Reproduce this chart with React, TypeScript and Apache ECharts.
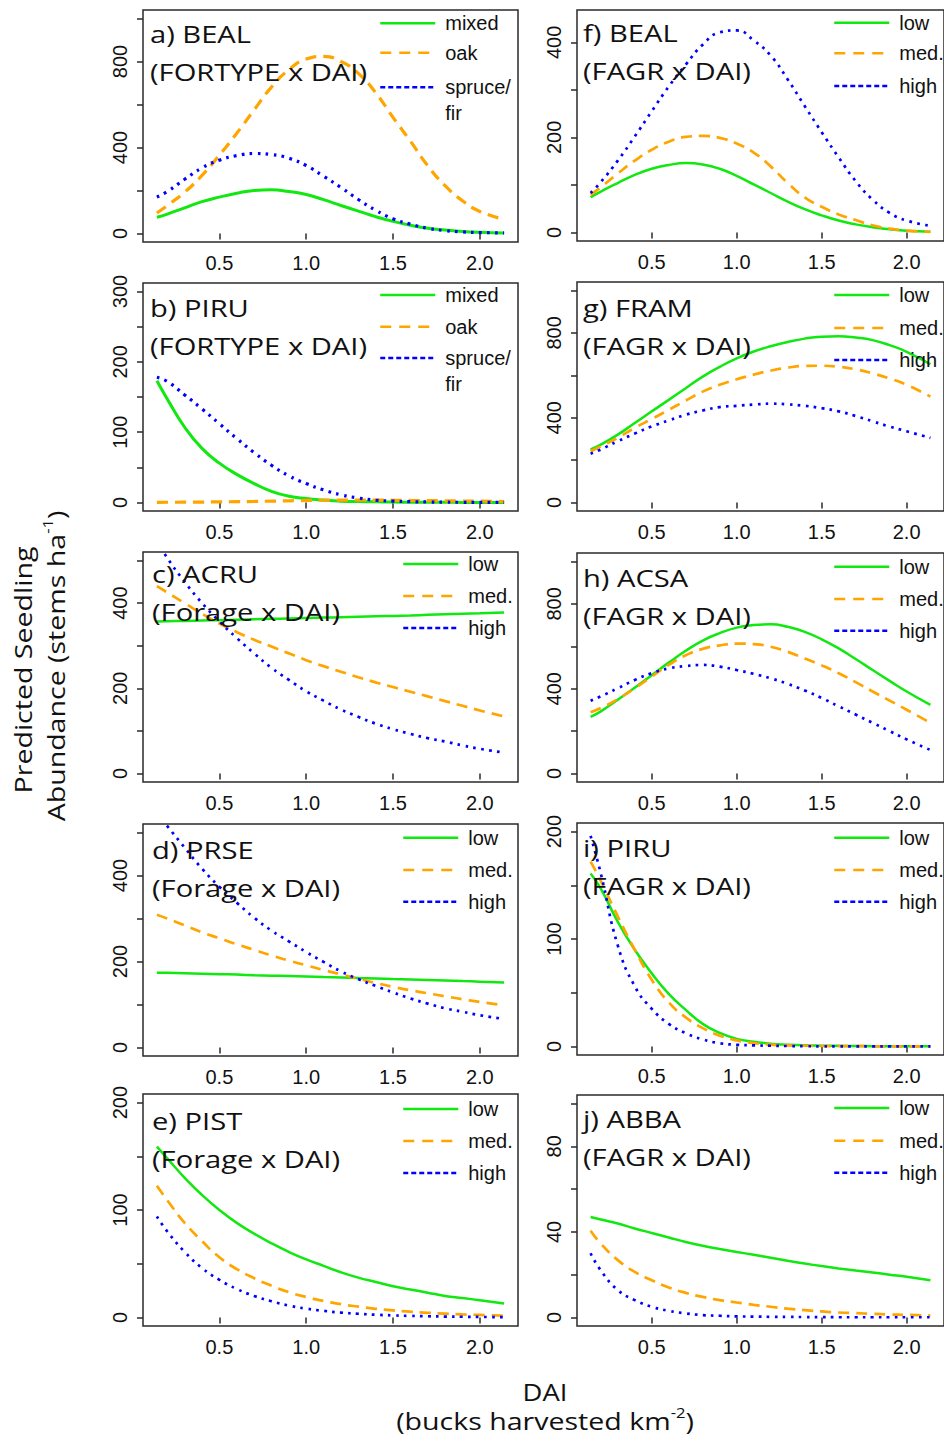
import React, { useEffect, useRef } from "react";
import * as echarts from "echarts";

// ---------- data ----------
const DAI = [0.14, 0.2, 0.3, 0.4, 0.5, 0.6, 0.7, 0.8, 0.9, 1.0, 1.1, 1.2, 1.3, 1.4, 1.5, 1.6, 1.7, 1.8, 1.9, 2.0, 2.14];
const X_TICKS = [0.5, 1.0, 1.5, 2.0];

const FORTYPE_NAMES = ["mixed", "oak", "spruce/fir"];
const LEVEL_NAMES = ["low", "med.", "high"];

// a) BEAL (FORTYPE x DAI)
const A_MIXED = [75, 90, 119, 148, 169, 187, 200, 203, 195, 181, 157, 130, 104, 78, 56, 38, 24, 16, 9, 5, 2];
const A_OAK = [95, 130, 192, 270, 364, 466, 575, 681, 762, 812, 824, 800, 745, 655, 540, 430, 315, 222, 152, 102, 66];
const A_SPRUCE = [169, 195, 252, 305, 341, 362, 372, 367, 350, 316, 266, 214, 158, 108, 68, 43, 24, 13, 7, 4, 2];
// b) PIRU (FORTYPE x DAI)
const B_MIXED = [173, 147, 107, 77, 56, 40, 27, 16, 9, 5.6, 3.5, 2, 1.4, 1, 0.7, 0.5, 0.4, 0.3, 0.25, 0.2, 0.1];
const B_OAK = [0.3, 0.4, 0.5, 0.7, 1, 1.3, 1.6, 2, 2.5, 3, 3.3, 3.5, 3.6, 3.5, 3.3, 3, 2.8, 2.5, 2.2, 2, 1.5];
const B_SPRUCE = [178, 172, 153, 133, 112, 91, 71, 53, 38, 27, 18, 11, 6.5, 3.5, 2, 1.2, 0.8, 0.5, 0.4, 0.3, 0.2];
// c) ACRU (Forage x DAI)
const C_LOW = [357, 357.5, 358, 359, 360, 361, 362, 363, 364, 365, 366, 367, 368, 369, 370, 371, 372.5, 374, 375, 376, 378];
const C_MED = [440, 425, 400, 375, 352, 332, 314, 298, 282, 266, 252, 239, 226, 214, 203, 192, 181, 170, 159, 148, 134];
const C_HIGH = [548, 506, 450, 400, 357, 318, 282, 248, 220, 193, 171, 150, 133, 117, 104, 93, 83, 75, 66, 58, 49];
// d) PRSE (Forage x DAI)
const D_LOW = [174, 173.5, 172.5, 171.5, 170.5, 169.5, 168, 167, 166, 165, 164, 163, 161.5, 160.5, 159, 158, 157, 156, 154.5, 153, 151];
const D_MED = [309, 300, 284, 268, 254, 240, 227, 214, 202, 191, 180, 170, 160, 150, 141, 133, 126, 119, 112, 106, 98];
const D_HIGH = [545, 515, 465, 416, 374, 337, 302, 272, 247, 222, 199, 177, 159, 143, 128, 114, 102, 91, 83, 75, 66];
// e) PIST (Forage x DAI)
const E_LOW = [159, 148, 130, 114, 100, 88, 78, 69, 61, 54, 48, 42, 37, 33, 29, 26, 23, 20, 18, 16, 13];
const E_MED = [122.5, 109, 88, 71, 56, 45, 36.5, 29.5, 23.5, 19, 15.3, 12.3, 10, 8, 6.5, 5.3, 4.3, 3.5, 2.8, 2.3, 1.7];
const E_HIGH = [94, 80, 61, 46, 35, 26.5, 20, 15, 11, 8.2, 6.1, 4.5, 3.4, 2.5, 1.9, 1.4, 1.1, 0.8, 0.6, 0.4, 0.3];
// f) BEAL (FAGR x DAI)
const F_LOW = [74, 86, 104, 121, 134, 142, 146, 143, 134, 119, 101, 83, 65, 49, 36, 25, 17, 11, 6.5, 3.8, 1.5];
const F_MED = [79, 95, 124, 151, 174, 191, 201, 203, 199, 187, 168, 139, 104, 74, 54, 38, 26, 15, 8, 4, 1];
const F_HIGH = [83, 106, 151, 202, 255, 307, 353, 395, 421, 425, 404, 372, 322, 266, 211, 158, 108, 69, 41, 25, 14];
// g) FRAM (FAGR x DAI)
const G_LOW = [250, 273, 320, 375, 430, 484, 539, 594, 640, 680, 712, 737, 757, 773, 782, 784, 778, 766, 742, 711, 652];
const G_MED = [242, 265, 305, 352, 394, 437, 481, 523, 555, 581, 603, 622, 636, 644, 645, 640, 628, 609, 585, 555, 500];
const G_HIGH = [230, 250, 289, 325, 359, 387, 414, 434, 450, 456, 462, 466, 463, 456, 445, 430, 408, 383, 358, 336, 305];
// h) ACSA (FAGR x DAI)
const H_LOW = [267, 293, 348, 405, 464, 523, 579, 627, 662, 688, 700, 704, 692, 668, 633, 590, 540, 488, 437, 387, 324];
const H_MED = [289, 309, 351, 402, 457, 512, 558, 588, 604, 613, 610, 598, 574, 543, 510, 473, 431, 387, 344, 301, 239];
const H_HIGH = [343, 364, 402, 441, 473, 496, 507, 512, 504, 488, 470, 449, 423, 392, 356, 317, 278, 239, 200, 161, 111];
// i) PIRU (FAGR x DAI)
const I_LOW = [161, 147, 116, 90, 68, 49, 34, 21, 12.5, 7, 4.3, 2.5, 1.6, 1, 0.7, 0.5, 0.35, 0.25, 0.15, 0.1, 0.1];
const I_MED = [172, 154, 121, 90, 62, 41, 27, 17, 10, 5.6, 3.1, 1.6, 1, 0.6, 0.4, 0.25, 0.2, 0.15, 0.1, 0.1, 0.1];
const I_HIGH = [196, 161, 94, 56, 35, 21, 12.3, 6.5, 3, 1.5, 1, 0.6, 0.35, 0.2, 0.1, 0.1, 0.1, 0.1, 0.1, 0.1, 0.1];
// j) ABBA (FAGR x DAI)
const J_LOW = [47, 45.8, 43.9, 41.6, 39.5, 37.4, 35.3, 33.5, 32, 30.6, 29.3, 27.9, 26.5, 25.2, 24, 22.9, 21.9, 21, 20, 19, 17.4];
const J_MED = [40.5, 34.5, 26.8, 21.3, 17.4, 14, 11.5, 9.6, 8.1, 7, 5.9, 5, 4.1, 3.4, 2.8, 2.3, 2, 1.7, 1.4, 1.2, 0.9];
const J_HIGH = [30, 22, 12.8, 8.1, 5, 3.1, 1.9, 1.1, 0.8, 0.5, 0.4, 0.3, 0.25, 0.2, 0.15, 0.1, 0.1, 0.1, 0.1, 0.1, 0.1];

// y-axis ticks and labels
const Y_TICKS_1000 = [0, 200, 400, 600, 800, 1000];
const Y_LABELS_1000 = [0, 400, 800];
const Y_TICKS_300 = [0, 50, 100, 150, 200, 250, 300];
const Y_LABELS_300 = [0, 100, 200, 300];
const Y_TICKS_500 = [0, 100, 200, 300, 400, 500];
const Y_LABELS_500 = [0, 200, 400];
const Y_TICKS_200 = [0, 50, 100, 150, 200];
const Y_LABELS_200 = [0, 100, 200];
const Y_TICKS_450 = [0, 100, 200, 300, 400];
const Y_LABELS_450 = [0, 200, 400];
const Y_TICKS_100 = [0, 20, 40, 60, 80, 100];
const Y_LABELS_100 = [0, 40, 80];

// ---------- layout / style ----------
const FONT_AXIS = "'Liberation Sans', Arial, sans-serif";
const FONT_TITLE = "'Open Sans', 'Noto Sans', sans-serif";
const X_MIN = 0.06;
const X_MAX = 2.22;
const STRETCH = 1.19;

type Panel = {
  label: string;
  model: string;
  names: string[];
  values: number[][];
  yMax: number;
  yTicks: number[];
  yLabels: number[];
  box: [number, number, number, number];
  titleX: number;
  titleBase: number;
  legendX: number;
  legendY: number[];
  lw: number;
};

const PANELS: Panel[] = [
  { label: "a) BEAL", model: "(FORTYPE x DAI)", names: FORTYPE_NAMES, values: [A_MIXED, A_OAK, A_SPRUCE], yMax: 1000, yTicks: Y_TICKS_1000, yLabels: Y_LABELS_1000, box: [143, 10, 375, 232], titleX: 150, titleBase: 42.7, legendX: 379, legendY: [23.3, 52.7, 87.3], lw: 3 },
  { label: "b) PIRU", model: "(FORTYPE x DAI)", names: FORTYPE_NAMES, values: [B_MIXED, B_OAK, B_SPRUCE], yMax: 300, yTicks: Y_TICKS_300, yLabels: Y_LABELS_300, box: [143, 283, 375, 228], titleX: 150, titleBase: 316.7, legendX: 379, legendY: [295, 326.7, 358], lw: 3 },
  { label: "c) ACRU", model: "(Forage x DAI)", names: LEVEL_NAMES, values: [C_LOW, C_MED, C_HIGH], yMax: 500, yTicks: Y_TICKS_500, yLabels: Y_LABELS_500, box: [143, 552, 375, 230], titleX: 152, titleBase: 583.3, legendX: 402, legendY: [564, 596, 628], lw: 2.5 },
  { label: "d) PRSE", model: "(Forage x DAI)", names: LEVEL_NAMES, values: [D_LOW, D_MED, D_HIGH], yMax: 500, yTicks: Y_TICKS_500, yLabels: Y_LABELS_500, box: [143, 824, 375, 232], titleX: 152, titleBase: 859.3, legendX: 402, legendY: [837.7, 870, 901.7], lw: 2.5 },
  { label: "e) PIST", model: "(Forage x DAI)", names: LEVEL_NAMES, values: [E_LOW, E_MED, E_HIGH], yMax: 200, yTicks: Y_TICKS_200, yLabels: Y_LABELS_200, box: [143, 1094, 375, 232], titleX: 152, titleBase: 1130, legendX: 402, legendY: [1109, 1141, 1173], lw: 2.5 },
  { label: "f) BEAL", model: "(FAGR x DAI)", names: LEVEL_NAMES, values: [F_LOW, F_MED, F_HIGH], yMax: 450, yTicks: Y_TICKS_450, yLabels: Y_LABELS_450, box: [577, 10, 375, 231], titleX: 583, titleBase: 41.7, legendX: 833, legendY: [22.7, 53.3, 86], lw: 2.5 },
  { label: "g) FRAM", model: "(FAGR x DAI)", names: LEVEL_NAMES, values: [G_LOW, G_MED, G_HIGH], yMax: 1000, yTicks: Y_TICKS_1000, yLabels: Y_LABELS_1000, box: [577, 282, 375, 229], titleX: 583, titleBase: 316.7, legendX: 833, legendY: [295, 328, 360], lw: 2.5 },
  { label: "h) ACSA", model: "(FAGR x DAI)", names: LEVEL_NAMES, values: [H_LOW, H_MED, H_HIGH], yMax: 1000, yTicks: Y_TICKS_1000, yLabels: Y_LABELS_1000, box: [577, 553, 375, 229], titleX: 583, titleBase: 586.7, legendX: 833, legendY: [566.7, 599, 630.7], lw: 2.5 },
  { label: "i) PIRU", model: "(FAGR x DAI)", names: LEVEL_NAMES, values: [I_LOW, I_MED, I_HIGH], yMax: 200, yTicks: Y_TICKS_200, yLabels: Y_LABELS_200, box: [577, 823, 375, 232], titleX: 583, titleBase: 857.3, legendX: 833, legendY: [837.7, 870, 901.7], lw: 2.5 },
  { label: "j) ABBA", model: "(FAGR x DAI)", names: LEVEL_NAMES, values: [J_LOW, J_MED, J_HIGH], yMax: 100, yTicks: Y_TICKS_100, yLabels: Y_LABELS_100, box: [577, 1095, 375, 231], titleX: 583, titleBase: 1128, legendX: 833, legendY: [1108, 1140.7, 1172.7], lw: 2.5 },
];

const LINE_STYLES = [
  { color: "#10e810", type: "solid" as any, extra: 0 },
  { color: "#ffa500", type: [11, 7] as any, extra: 0.2 },
  { color: "#0000ff", type: [2.7, 5.3] as any, extra: 0.2 },
];
const LEGEND_LINES = [
  { color: "#10e810", type: "solid" as any, width: 2.5 },
  { color: "#ffa500", type: [11, 8] as any, width: 2.5 },
  { color: "#0000ff", type: [5, 3] as any, width: 2.5 },
];

function buildOption() {
  const grid = PANELS.map((p) => ({
    left: p.box[0],
    top: p.box[1],
    width: p.box[2],
    height: p.box[3],
    show: true,
    borderColor: "#2a2a2a",
    borderWidth: 1.5,
    backgroundColor: "transparent",
  }));

  const xAxis = PANELS.map((p, i) => ({
    type: "value",
    gridIndex: i,
    min: X_MIN,
    max: X_MAX,
    axisLine: { show: false },
    splitLine: { show: false },
    axisTick: { show: true, length: 6, lineStyle: { color: "#2a2a2a", width: 1.5 }, customValues: X_TICKS },
    axisLabel: {
      customValues: X_TICKS,
      formatter: (v: number) => v.toFixed(1),
      margin: 11,
      color: "#111",
      fontSize: 20,
      fontFamily: FONT_AXIS,
    },
  }));

  const yAxis = PANELS.map((p, i) => ({
    type: "value",
    gridIndex: i,
    min: -0.04 * p.yMax,
    max: 1.04 * p.yMax,
    axisLine: { show: false },
    splitLine: { show: false },
    axisTick: { show: true, length: 6, lineStyle: { color: "#2a2a2a", width: 1.5 }, customValues: p.yTicks },
    axisLabel: {
      customValues: p.yLabels,
      rotate: 90,
      margin: 13,
      color: "#111",
      fontSize: 20,
      fontFamily: FONT_AXIS,
    },
  }));

  const series: any[] = [];
  PANELS.forEach((p, i) => {
    p.values.forEach((vals, k) => {
      const st = LINE_STYLES[k];
      series.push({
        type: "line",
        name: p.names[k],
        xAxisIndex: i,
        yAxisIndex: i,
        data: DAI.map((x, j) => [x, vals[j]]),
        symbol: "none",
        showSymbol: false,
        smooth: 0.5,
        clip: true,
        lineStyle: { color: st.color, type: st.type, width: p.lw + st.extra, cap: "butt" },
        itemStyle: { color: st.color },
        emphasis: { disabled: true },
        z: 2 + k,
      });
    });
  });

  const legend: any[] = [];
  PANELS.forEach((p) => {
    p.names.forEach((nm, k) => {
      const twoLine = nm === "spruce/fir";
      const lh = twoLine ? 26 : 22;
      legend.push({
        left: p.legendX,
        top: p.legendY[k] - (twoLine ? 1.5 * lh : lh / 2),
        padding: 0,
        orient: "vertical",
        itemWidth: 55,
        itemHeight: 14,
        selectedMode: false,
        // an empty first line keeps the icon level with "spruce/" and puts "fir" below it
        formatter: (name: string) => (name === "spruce/fir" ? "\nspruce/\nfir" : name),
        data: [
          {
            name: nm,
            lineStyle: LEGEND_LINES[k],
            itemStyle: { opacity: 0 },
          },
        ],
        textStyle: {
          fontFamily: FONT_AXIS,
          fontSize: 20,
          color: "#111",
          lineHeight: lh,
          padding: [0, 0, 0, 5],
        },
      });
    });
  });

  const rich = (fs: number) => ({
    n: { fontFamily: FONT_TITLE, fontSize: fs, lineHeight: 30, fill: "#111", color: "#111" },
    s: { fontFamily: FONT_TITLE, fontSize: 14, lineHeight: 18, verticalAlign: "top", fill: "#111", color: "#111" },
  });

  const graphic: any[] = PANELS.map((p) => ({
    type: "text",
    x: p.titleX,
    y: p.titleBase - 28.5,
    scaleX: STRETCH,
    z: 100,
    style: {
      text: p.label + "\n" + p.model,
      fontFamily: FONT_TITLE,
      fontSize: 24.5,
      lineHeight: 38,
      fill: "#111",
      align: "left",
      verticalAlign: "top",
      textAlign: "left",
      textVerticalAlign: "top",
    },
  }));

  graphic.push(
    {
      type: "text",
      x: 23,
      y: 670,
      rotation: Math.PI / 2,
      scaleX: STRETCH,
      style: {
        text: "Predicted Seedling",
        fontFamily: FONT_TITLE,
        fontSize: 24,
        fill: "#111",
        align: "center",
        verticalAlign: "middle",
        textAlign: "center",
        textVerticalAlign: "middle",
      },
    },
    {
      type: "text",
      x: 56,
      y: 666,
      rotation: Math.PI / 2,
      scaleX: STRETCH,
      style: {
        text: "{n|Abundance (stems ha}{s|-1}{n|)}",
        rich: rich(24),
        fill: "#111",
        align: "center",
        verticalAlign: "middle",
        textAlign: "center",
        textVerticalAlign: "middle",
      },
    },
    {
      type: "text",
      x: 545,
      y: 1392,
      scaleX: STRETCH,
      style: {
        text: "DAI",
        fontFamily: FONT_TITLE,
        fontSize: 23,
        fill: "#111",
        align: "center",
        verticalAlign: "middle",
        textAlign: "center",
        textVerticalAlign: "middle",
      },
    },
    {
      type: "text",
      x: 545,
      y: 1421,
      scaleX: STRETCH,
      style: {
        text: "{n|(bucks harvested km}{s|-2}{n|)}",
        rich: rich(24),
        fill: "#111",
        align: "center",
        verticalAlign: "middle",
        textAlign: "center",
        textVerticalAlign: "middle",
      },
    }
  );

  return {
    animation: false,
    backgroundColor: "#ffffff",
    grid,
    xAxis,
    yAxis,
    series,
    legend,
    graphic,
  };
}

export default function App() {
  const ref = useRef<HTMLDivElement>(null);
  useEffect(() => {
    if (!ref.current) return;
    const chart = echarts.init(ref.current, null, { renderer: "svg", width: 944, height: 1442 });
    chart.setOption(buildOption() as any);
    return () => {
      chart.dispose();
    };
  }, []);
  return (
    <div
      ref={ref}
      style={{ position: "absolute", left: 0, top: 0, width: 944, height: 1442, background: "#fff" }}
    />
  );
}
